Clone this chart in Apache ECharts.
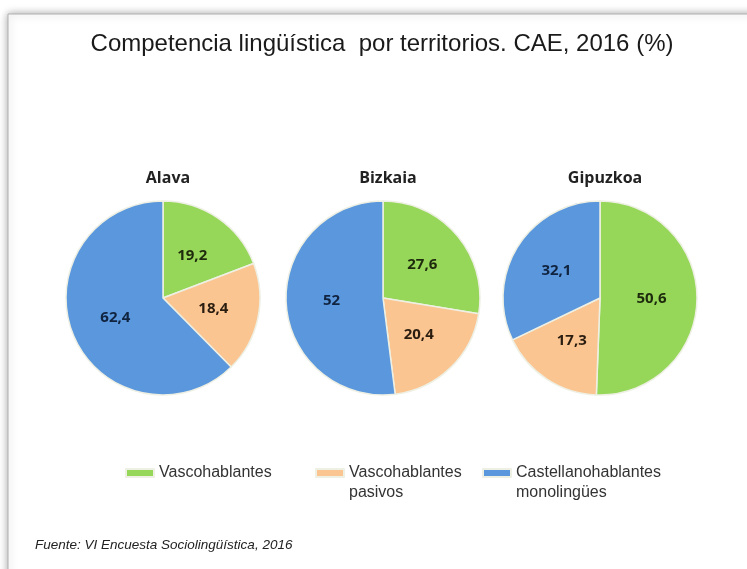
<!DOCTYPE html>
<html>
<head>
<meta charset="utf-8">
<script src="https://cdn.jsdelivr.net/npm/echarts@6/dist/echarts.min.js"></script>
<style>
  html, body { margin: 0; padding: 0; background: #fff; }
  #chart { width: 747px; height: 569px; }
</style>
</head>
<body>
<div id="chart"></div>
<script>
// datos
const territories = ["Alava", "Bizkaia", "Gipuzkoa"];
const categories = ["Vascohablantes", "Vascohablantes pasivos", "Castellanohablantes monolingües"];
const vascohablantes = [19.2, 27.6, 50.6];
const pasivos = [18.4, 20.4, 17.3];
const castellanos = [62.4, 52, 32.1];

const colors = ["#96d75a", "#fbc592", "#5a97dc"];
const labelColors = ["#1e2a0c", "#2a1d10", "#10233f"];
const centersX = [163, 383, 600];
const centerY = 298;

const chart = echarts.init(document.getElementById("chart"));

const series = territories.map((t, i) => {
  const vals = [vascohablantes[i], pasivos[i], castellanos[i]];
  return {
    name: t,
    type: "pie",
    radius: [0, 97],
    center: [centersX[i], centerY],
    startAngle: 90,
    clockwise: true,
    silent: true,
    itemStyle: {borderColor: "#eef0e4", borderWidth: 1.5},
    label: {
      position: "inner",
      fontFamily: "Open Sans",
      fontWeight: "bold",
      fontSize: 15,
      formatter: p => String(p.value).replace(".", ",")
    },
    labelLine: {show: false},
    data: vals.map((v, k) => ({
      name: categories[k],
      value: v,
      itemStyle: {color: colors[k]},
      label: {color: labelColors[k]}
    }))
  };
});

// leyenda: una por categoria; en las de dos lineas el icono va arriba
// (el path lleva un punto suelto abajo para que el rectangulo quede en la 1a linea)
const legendTop = 458;
const legendLefts = [120, 310, 477];
const lineH = 20;
const legends = categories.map((c, k) => ({
  data: [c],
  left: legendLefts[k],
  top: legendTop,
  itemWidth: 28,
  itemHeight: k === 0 ? 8 : 28,
  icon: k === 0 ? "path://M0,0L28,0L28,8L0,8Z" : "path://M0,0L28,0L28,8L0,8ZM0,28",
  selectedMode: false,
  formatter: name => (k === 0 ? name : name.replace(" ", "\n")),
  textStyle: {
    fontFamily: "Liberation Sans",
    fontSize: 16,
    color: "#333",
    lineHeight: lineH
  }
}));

const titles = [{
  text: "Competencia lingüística  por territorios. CAE, 2016 (%)",
  left: 377,
  textAlign: "center",
  top: 27,
  textStyle: {fontFamily: "Liberation Sans", fontSize: 24, fontWeight: "normal", color: "#1a1a1a"}
}].concat(territories.map((t, i) => ({
  text: t,
  left: centersX[i],
  textAlign: "center",
  top: 165,
  textStyle: {fontFamily: "Open Sans", fontSize: 16, fontWeight: "bold", color: "#222"}
})));

chart.setOption({
  animation: false,
  title: titles,
  legend: legends,
  graphic: [
    {
      type: "rect",
      shape: {x: 8, y: 14, width: 780, height: 600},
      style: {fill: "#fff", stroke: "#b0b0b0", lineWidth: 1, shadowBlur: 8, shadowColor: "rgba(0,0,0,0.35)"},
      z: -10
    },
    {
      type: "text",
      left: 35,
      top: 538,
      style: {
        text: "Fuente: VI Encuesta Sociolingüística, 2016",
        font: "italic 13.5px Liberation Sans",
        fill: "#222"
      }
    }
  ],
  series: series
});
</script>
</body>
</html>
